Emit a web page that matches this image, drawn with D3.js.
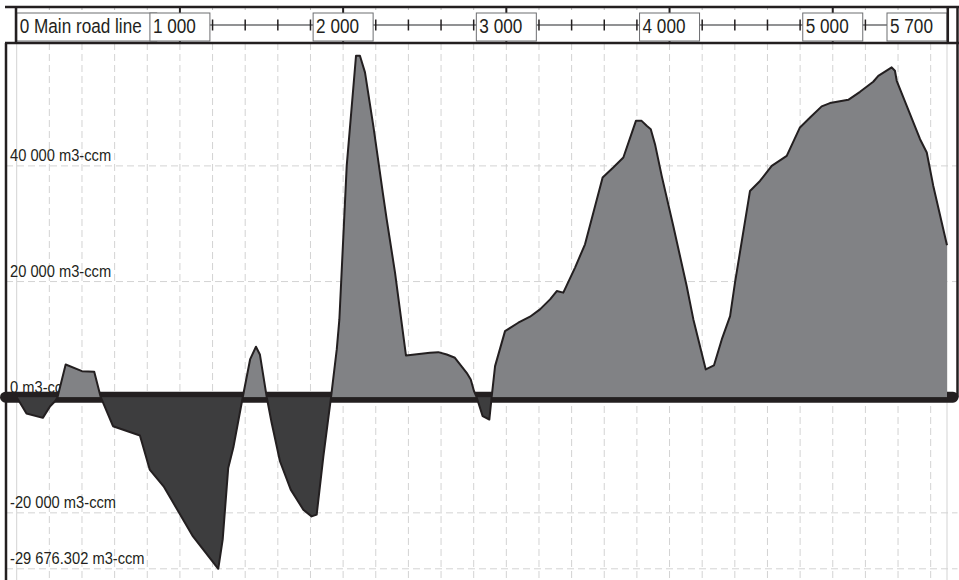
<!DOCTYPE html>
<html>
<head>
<meta charset="utf-8">
<script src="https://cdn.jsdelivr.net/npm/d3@7"></script>
<style>
  html, body { margin: 0; padding: 0; background: #fff; }
  svg { display: block; }
  text { font-family: "Liberation Sans", Arial, sans-serif; fill: #231f20; }
</style>
</head>
<body>
<svg id="chart" width="959" height="580"></svg>
<script>
// Mass-haul profile of the main road line: cumulative volume per station
const roadName = "Main road line";
const volumeUnit = "m3-ccm";

const stations = [0, 60, 160, 205, 235, 250, 300, 400, 475, 515, 590, 755, 815, 900, 1080,
  1235, 1262, 1296, 1327, 1385, 1430, 1466, 1490, 1532, 1562, 1613, 1679, 1756, 1807, 1838,
  1879, 1926, 1961, 1977, 2022, 2079, 2103, 2134, 2185, 2243, 2267, 2318, 2385, 2532, 2583,
  2635, 2685, 2757, 2782, 2802, 2818, 2855, 2896, 2910, 2931, 2992, 3073, 3145, 3206, 3268,
  3309, 3349, 3421, 3482, 3590, 3655, 3717, 3794, 3829, 3860, 3885, 3911, 3952, 4023, 4105,
  4146, 4222, 4272, 4320, 4371, 4401, 4493, 4554, 4626, 4718, 4799, 4861, 4932, 4983, 5095,
  5167, 5248, 5279, 5361, 5381, 5392, 5535, 5576, 5616, 5700];

const volumes = [0, -2820, -3570, -1560, -690, 0, 5660, 4500, 4400, 0, -5020, -6630, -12520, -15410, -24070,
  -29676.302, -24640, -12225, -8760, 0, 6530, 8730, 7390, 0, -4430, -11080, -15980, -19450, -20610, -20310,
  -10220, 0, 8260, 13450, 40000, 59050, 59050, 56170, 46930, 35390, 30770, 21540, 7220, 7690, 7790,
  7390, 6820, 4225, 3065, 1040, 0, -3290, -3860, 0, 5370, 11430, 12880, 13920, 15190, 16920,
  18355, 18080, 22410, 26440, 37990, 39720, 41455, 47790, 47790, 46930, 46355, 43760, 38270, 29610, 19220,
  13450, 4800, 5490, 9990, 14030, 19810, 35670, 37400, 40000, 41730, 46650, 48380, 50290, 50860, 51430,
  52810, 54550, 55580, 57040, 56450, 54720, 44620, 42320, 36540, 26270];

const stationTicks = [0, 1000, 2000, 3000, 4000, 5000, 5700];
const stationStep = 200;
const volumeTicks = [40000, 20000, 0, -20000, -29676.302];

const points = stations.map((s, i) => ({ s, v: volumes[i] }));

const locale = d3.formatLocale({ decimal: ".", thousands: " ", grouping: [3], currency: ["", ""], minus: "-" });
const fmtVol = locale.format(",.3~f");
const fmtSta = locale.format(",d");

const svg = d3.select("#chart");

const x = d3.scaleLinear().domain([0, 5700]).range([16.7, 947]);
const y = d3.scaleLinear().domain([-29676.302, 40000]).range([568.8, 165.9]);

const headerTop = 7, headerBottom = 43, plotBottom = 580;
const leftEdge = 6, rightEdge = 957.5;
const ink = "#231f20";

// narrow-looking text: regular face squeezed horizontally
function narrowText(sel, px, py, size, sx) {
  return sel.append("g")
    .attr("transform", d => `translate(${px(d)},${py(d)}) scale(${sx},1)`)
    .append("text").attr("font-size", size);
}

// grid: vertical lines every 200 stations
const gridStations = d3.range(0, 5700 + 1, stationStep).concat([5700]);
svg.append("g").selectAll("line").data(gridStations).join("line")
  .attr("x1", d => x(d)).attr("x2", d => x(d))
  .attr("y1", headerBottom).attr("y2", plotBottom)
  .attr("stroke", "#d3d3d3").attr("stroke-width", 1)
  .attr("stroke-dasharray", d => (d === 0 || d === 5700) ? null : "7,4");

// grid: horizontal lines at volume ticks
svg.append("g").selectAll("line").data(volumeTicks.filter(v => v !== 0)).join("line")
  .attr("x1", leftEdge).attr("x2", rightEdge)
  .attr("y1", d => y(d)).attr("y2", d => y(d))
  .attr("stroke", "#d3d3d3").attr("stroke-width", 1)
  .attr("stroke-dasharray", "7,4");

// volume labels
const volLab = svg.append("g").selectAll("g").data(volumeTicks).join("g");
narrowText(volLab, () => 10, d => y(d) - 4.5, 16.5, 0.89)
  .text(d => `${fmtVol(d)} ${volumeUnit}`);

// zero (balance) line
svg.append("line")
  .attr("x1", 5.5).attr("x2", 953)
  .attr("y1", y(0)).attr("y2", y(0))
  .attr("stroke", ink).attr("stroke-width", 11).attr("stroke-linecap", "round");

// filled areas: surplus above zero, deficit below
const defs = svg.append("defs");
defs.append("clipPath").attr("id", "clip-pos").append("rect")
  .attr("x", 0).attr("y", 0).attr("width", 959).attr("height", y(0));
defs.append("clipPath").attr("id", "clip-neg").append("rect")
  .attr("x", 0).attr("y", y(0)).attr("width", 959).attr("height", 580 - y(0));

const area = d3.area().x(d => x(d.s)).y0(y(0)).y1(d => y(d.v));
svg.append("path").datum(points).attr("d", area)
  .attr("fill", "#818285").attr("clip-path", "url(#clip-pos)");
svg.append("path").datum(points).attr("d", area)
  .attr("fill", "#3d3d3e").attr("clip-path", "url(#clip-neg)");

const line = d3.line().x(d => x(d.s)).y(d => y(d.v));
svg.append("path").datum(points).attr("d", line)
  .attr("fill", "none").attr("stroke", ink).attr("stroke-width", 2)
  .attr("stroke-linejoin", "round");

// header band: station scale
const header = svg.append("g");
const midY = 25;
header.append("line")
  .attr("x1", x(0)).attr("x2", x(5700)).attr("y1", midY).attr("y2", midY)
  .attr("stroke", "#6d6e71").attr("stroke-width", 1.5);

// tiny marks along the top edge
header.append("g").selectAll("line").data(gridStations).join("line")
  .attr("x1", d => x(d)).attr("x2", d => x(d))
  .attr("y1", headerTop).attr("y2", headerTop + 3)
  .attr("stroke", "#bbb").attr("stroke-width", 1);

// minor station ticks
header.append("g").selectAll("line").data(gridStations).join("line")
  .attr("x1", d => x(d)).attr("x2", d => x(d))
  .attr("y1", midY - 5.5).attr("y2", midY + 5.5)
  .attr("stroke", ink).attr("stroke-width", 1.5);

// major station ticks across the band
header.append("g").selectAll("line").data(stationTicks.slice(1, -1)).join("line")
  .attr("x1", d => x(d)).attr("x2", d => x(d))
  .attr("y1", headerTop).attr("y2", headerBottom)
  .attr("stroke", ink).attr("stroke-width", 2);

// station label boxes
const boxW = 60, boxTop = 13, boxBottom = 41;
const labels = stationTicks.map((s, i) => {
  let text = fmtSta(s), x0;
  if (i === 0) { text = `${fmtSta(s)} ${roadName}`; x0 = x(s); }
  else if (i === stationTicks.length - 1) { x0 = x(s) - boxW; }
  else { x0 = x(s) - boxW / 2; }
  return { s, text, x0, w: i === 0 ? 140 : boxW };
});
const lab = header.append("g").selectAll("g").data(labels).join("g");
lab.append("rect")
  .attr("x", d => d.x0).attr("y", boxTop).attr("width", d => d.w).attr("height", boxBottom - boxTop)
  .attr("fill", "#fff").attr("stroke", "#6d6e71").attr("stroke-width", 1);
narrowText(lab, d => d.x0 + 3, () => 33, 19.5, 0.88)
  .text(d => d.text);

// frame
const frame = svg.append("g").attr("stroke", ink).attr("stroke-width", 2.5).attr("fill", "none");
frame.append("line").attr("x1", 5).attr("x2", 959).attr("y1", headerTop).attr("y2", headerTop);
frame.append("line").attr("x1", 5).attr("x2", 959).attr("y1", headerBottom).attr("y2", headerBottom);
frame.append("line").attr("x1", 16).attr("x2", 16).attr("y1", headerTop).attr("y2", headerBottom);
frame.append("line").attr("x1", x(5700) + 0.8).attr("x2", x(5700) + 0.8).attr("y1", headerTop).attr("y2", headerBottom);
frame.append("line").attr("x1", leftEdge).attr("x2", leftEdge).attr("y1", headerBottom).attr("y2", plotBottom);
frame.append("line").attr("x1", rightEdge).attr("x2", rightEdge).attr("y1", headerTop).attr("y2", y(0));
</script>
</body>
</html>
